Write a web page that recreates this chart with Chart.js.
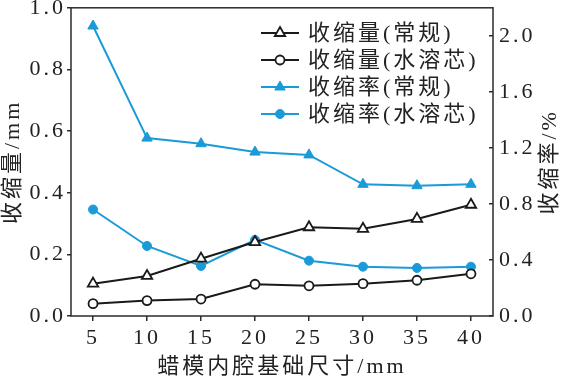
<!DOCTYPE html>
<html><head><meta charset="utf-8">
<script src="https://cdn.jsdelivr.net/npm/chart.js@4.4.1/dist/chart.umd.min.js"></script>
<style>html,body{margin:0;padding:0;background:#fff}#wrap{width:562px;height:380px}</style>
</head><body><div id="wrap"><canvas id="c" width="562" height="380"></canvas></div>
<script>
// ---- data ----
const sizes = [5, 10, 15, 20, 25, 30, 35, 40];
const shrinkNormal = [0.105, 0.13, 0.186, 0.24, 0.288, 0.283, 0.315, 0.361];
const shrinkCore = [0.04, 0.05, 0.055, 0.103, 0.098, 0.105, 0.116, 0.137];
const rateNormal = [2.07, 1.27, 1.23, 1.17, 1.15, 0.94, 0.93, 0.94];
const rateCore = [0.76, 0.50, 0.357, 0.543, 0.395, 0.352, 0.343, 0.352];
const seriesNames = ['收缩量(常规)', '收缩量(水溶芯)', '收缩率(常规)', '收缩率(水溶芯)'];
const xTicks = [5, 10, 15, 20, 25, 30, 35, 40];
const xTitle = '蜡模内腔基础尺寸/mm';
const yLeftTitle = '收缩量/mm';
const yRightTitle = '收缩率/%';

const FONT = "'Liberation Serif', 'Times New Roman', Tinos, 'DejaVu Serif', 'Noto Sans CJK SC', serif";
const BLUE = '#1b9ad8', BLACK = '#1a1a1a', AXIS = '#2b2b2b', TEXT = '#222';
const LS = '3px';

const pts = arr => sizes.map((x, i) => ({x: x, y: arr[i]}));

const lsPlugin = {
  id: 'ls',
  beforeLayout(c) { c.ctx.letterSpacing = LS; },
  beforeDraw(c) { c.ctx.letterSpacing = LS; }
};

const framePlugin = {
  id: 'frame',
  afterDraw(c) {
    const a = c.chartArea, ctx = c.ctx;
    ctx.save();
    ctx.strokeStyle = AXIS; ctx.lineWidth = 1.5;
    ctx.strokeRect(a.left, a.top, a.right - a.left, a.bottom - a.top);
    ctx.restore();
  }
};

const legendPlugin = {
  id: 'customLegend',
  afterDraw(c) {
    const ctx = c.ctx;
    ctx.save();
    ctx.letterSpacing = LS;
    c.data.datasets.forEach((ds, i) => {
      const y = 33 + i * 27;
      ctx.strokeStyle = ds.borderColor; ctx.lineWidth = 2;
      ctx.beginPath(); ctx.moveTo(261, y); ctx.lineTo(299, y); ctx.stroke();
      ctx.fillStyle = ds.pointBackgroundColor; ctx.strokeStyle = ds.pointBorderColor;
      ctx.lineWidth = ds.pointBorderWidth;
      Chart.helpers.drawPoint(ctx, {pointStyle: ds.pointStyle, radius: ds.pointRadius, borderWidth: ds.pointBorderWidth, rotation: 0}, 280, y);
      ctx.fillStyle = TEXT; ctx.font = '22px ' + FONT;
      ctx.textAlign = 'left'; ctx.textBaseline = 'middle';
      ctx.fillText(ds.label, 308, y + 1);
    });
    // right axis title, reading bottom to top
    const a = c.chartArea;
    ctx.translate(550, (a.top + a.bottom) / 2);
    ctx.rotate(-Math.PI / 2);
    ctx.textAlign = 'center'; ctx.textBaseline = 'middle';
    ctx.fillText(yRightTitle, 0, 0);
    ctx.restore();
  }
};

const noPad = s => { s.paddingTop = 0; s.paddingBottom = 0; s.paddingLeft = 0; s.paddingRight = 0; };
const tickFont = {family: FONT, size: 22};

new Chart(document.getElementById('c'), {
  type: 'line',
  data: {
    datasets: [
      {label: seriesNames[0], data: pts(shrinkNormal), yAxisID: 'y', borderColor: BLACK, borderWidth: 2,
       pointStyle: 'triangle', pointRadius: 6, pointBorderWidth: 1.8, pointBorderColor: BLACK, pointBackgroundColor: '#fff', order: 0},
      {label: seriesNames[1], data: pts(shrinkCore), yAxisID: 'y', borderColor: BLACK, borderWidth: 2,
       pointStyle: 'circle', pointRadius: 4.5, pointBorderWidth: 1.8, pointBorderColor: BLACK, pointBackgroundColor: '#fff', order: 0},
      {label: seriesNames[2], data: pts(rateNormal), yAxisID: 'y2', borderColor: BLUE, borderWidth: 2,
       pointStyle: 'triangle', pointRadius: 6, pointBorderWidth: 1, pointBorderColor: BLUE, pointBackgroundColor: BLUE, order: 1},
      {label: seriesNames[3], data: pts(rateCore), yAxisID: 'y2', borderColor: BLUE, borderWidth: 2,
       pointStyle: 'circle', pointRadius: 4.5, pointBorderWidth: 1, pointBorderColor: BLUE, pointBackgroundColor: BLUE, order: 1}
    ]
  },
  options: {
    responsive: false, animation: false, devicePixelRatio: 1,
    layout: {padding: {top: 7, left: 0, right: 0, bottom: 0}},
    plugins: {legend: {display: false}, tooltip: {enabled: false}},
    scales: {
      x: {
        type: 'linear', position: 'bottom', min: 2.96, max: 42.04,
        afterBuildTicks: s => { s.ticks = xTicks.map(v => ({value: v})); },
        afterFit: s => { s.height = 64; noPad(s); },
        border: {display: false},
        grid: {display: true, drawOnChartArea: false, drawTicks: true, tickLength: 5, color: AXIS, lineWidth: 1.5},
        ticks: {font: tickFont, color: TEXT, padding: 4, maxRotation: 0, autoSkip: false},
        title: {display: true, text: xTitle, font: {family: FONT, size: 22}, color: TEXT, padding: {top: 0, bottom: 0}}
      },
      y: {
        type: 'linear', position: 'left', min: 0, max: 1.0,
        afterFit: s => { s.width = 71; noPad(s); },
        border: {display: false},
        grid: {display: true, drawOnChartArea: false, drawTicks: true, tickLength: 4, color: AXIS, lineWidth: 1.5},
        ticks: {stepSize: 0.2, font: tickFont, color: TEXT, padding: 1, callback: v => v.toFixed(1)},
        title: {display: true, text: yLeftTitle, font: {family: FONT, size: 22}, color: TEXT, padding: {top: 0, bottom: 0}}
      },
      y2: {
        type: 'linear', position: 'right', min: 0, max: 2.2,
        afterFit: s => { s.width = 69; noPad(s); },
        border: {display: false},
        grid: {display: true, drawOnChartArea: false, drawTicks: true, tickLength: -4, color: AXIS, lineWidth: 1.5},
        ticks: {stepSize: 0.4, includeBounds: false, font: tickFont, color: TEXT, padding: 10, callback: v => v.toFixed(1)},
        title: {display: false}
      }
    }
  },
  plugins: [lsPlugin, framePlugin, legendPlugin]
});
</script>
</body></html>
